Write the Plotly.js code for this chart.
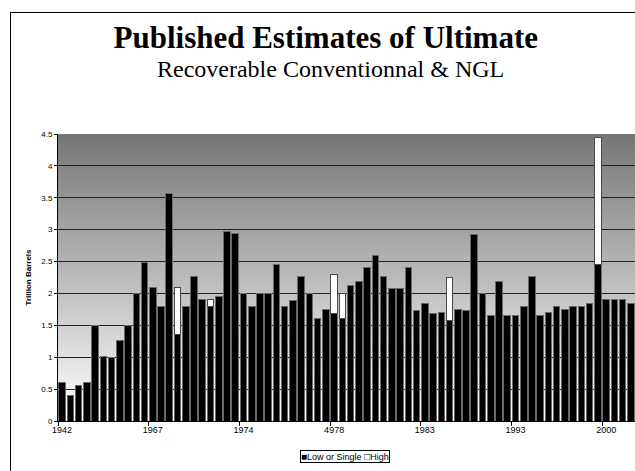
<!DOCTYPE html>
<html>
<head>
<meta charset="utf-8">
<script src="https://cdn.plot.ly/plotly-3.0.1.min.js"></script>
<style>
  html, body { margin: 0; padding: 0; background: #fff; overflow: hidden; }
  #wrap { position: relative; width: 635px; height: 471px; }
  #bg { position: absolute; left: 58px; top: 134px; width: 577px; height: 287px;
        background: linear-gradient(to bottom, #767676 0%, #ffffff 100%); z-index: 0; }
  #frame { position: absolute; left: 10px; top: 12px; width: 700px; height: 600px;
           border: 1px solid #000; z-index: 2; pointer-events: none; }
  #chart { position: absolute; left: 0; top: 0; width: 635px; height: 471px; z-index: 1; }
</style>
</head>
<body>
<div id="wrap">
  <div id="bg"></div>
  <div id="chart"></div>
  <div id="frame"></div>
</div>
<script>
// Low or single estimate for each published study (trillion barrels), in order
const lowOrSingle = [
  0.60, 0.40, 0.55, 0.61, 1.50, 1.01, 1.00, 1.26, 1.50, 2.00,
  2.48, 2.09, 1.80, 3.56, 1.36, 1.80, 2.26, 1.90, 1.80, 1.95,
  2.97, 2.94, 2.00, 1.80, 2.00, 2.00, 2.45, 1.80, 1.89, 2.27,
  2.00, 1.60, 1.75, 1.69, 1.60, 2.13, 2.19, 2.40, 2.60, 2.27,
  2.07, 2.08, 2.40, 1.73, 1.84, 1.69, 1.70, 1.58, 1.75, 1.73,
  2.92, 2.00, 1.65, 2.18, 1.65, 1.65, 1.80, 2.27, 1.65, 1.70,
  1.80, 1.75, 1.80, 1.80, 1.85, 2.45, 1.90, 1.90, 1.90, 1.85
];
// High estimate where a range was published (null = single estimate)
const highEstimate = [
  null, null, null, null, null, null, null, null, null, null,
  null, null, null, null, 2.10, null, null, null, 1.90, null,
  null, null, null, null, null, null, null, null, null, null,
  null, null, null, 2.30, 2.00, null, null, null, null, null,
  null, null, null, null, null, null, null, 2.25, null, null,
  null, null, null, null, null, null, null, null, null, null,
  null, null, null, null, null, 4.44, null, null, null, null
];
// Category axis labels (as printed) and the study index they sit on
const tickLabels = ['1942', '1967', '1974', '4978', '1983', '1993', '2000'];
const tickIndex = [0, 11, 22, 33, 44, 55, 66];
const seriesNames = ['Low or Single', 'High'];

const idx = lowOrSingle.map((_, i) => i);
const highPart = highEstimate.map((h, i) => (h == null ? null : +(h - lowOrSingle[i]).toFixed(3)));

const traces = [
  {
    type: 'bar', name: seriesNames[0], x: idx, y: lowOrSingle,
    marker: { color: '#000000', line: { color: '#6a6a6a', width: 1 } },
    hoverinfo: 'y'
  },
  {
    type: 'bar', name: seriesNames[1], x: idx, y: highPart,
    marker: { color: '#ffffff', line: { color: '#4a4a4a', width: 1 } },
    hoverinfo: 'y'
  }
];

const sans = 'Liberation Sans, Arial, sans-serif';
const serif = 'Liberation Serif, Times New Roman, serif';
const yFont = { family: sans, size: 8, color: '#000' };
const xFont = { family: sans, size: 9, color: '#000' };

const layout = {
  width: 635, height: 471,
  margin: { l: 58, r: 0, t: 134, b: 50, pad: 0, autoexpand: false },
  paper_bgcolor: 'rgba(0,0,0,0)',
  plot_bgcolor: 'rgba(0,0,0,0)',
  barmode: 'stack',
  bargap: 0.2,
  showlegend: false,
  font: yFont,
  title: {
    text: '<b>Published Estimates of Ultimate</b>',
    font: { family: serif, size: 31, color: '#000' },
    x: 0.513, xanchor: 'center', xref: 'container',
    y: 0.899, yanchor: 'bottom', yref: 'container'
  },
  annotations: [
    {
      text: 'Recoverable Conventionnal & NGL',
      font: { family: serif, size: 24, color: '#000' },
      xref: 'paper', yref: 'paper', x: 0.473, y: 1.175,
      xanchor: 'center', yanchor: 'bottom', showarrow: false
    },
    {
      // legend box
      text: '<span style="font-size:10px">\u25A0</span>' + seriesNames[0] +
            ' <span style="font-size:10px">\u25A1</span>' + seriesNames[1],
      font: { family: sans, size: 9, color: '#000' },
      xref: 'paper', yref: 'paper', x: 0.498, y: -0.1254,
      xanchor: 'center', yanchor: 'middle', showarrow: false,
      bgcolor: '#fff', bordercolor: '#000', borderwidth: 1, borderpad: 0
    }
  ],
  xaxis: {
    type: 'linear',
    range: [-0.5, lowOrSingle.length - 0.5],
    tickmode: 'array', tickvals: tickIndex, ticktext: tickLabels,
    ticks: '', showgrid: false, zeroline: false,
    showline: true, linecolor: '#000', linewidth: 1,
    tickfont: xFont,
    automargin: false,
    minor: {
      tickmode: 'array', tickvals: tickIndex.map(v => v - 0.5),
      ticks: 'outside', ticklen: 4, tickcolor: '#000', tickwidth: 1, showgrid: false
    }
  },
  yaxis: {
    range: [0, 4.5], dtick: 0.5, tick0: 0,
    ticks: 'outside', ticklen: 3, tickcolor: '#000', tickwidth: 1,
    showgrid: true, gridcolor: '#222', gridwidth: 1,
    zeroline: false, showline: true, linecolor: '#000', linewidth: 1,
    tickfont: yFont,
    automargin: false,
    title: { text: '<b>Trillion Barrels</b>', font: yFont, standoff: 8 }
  }
};

Plotly.newPlot('chart', traces, layout, { displayModeBar: false, staticPlot: true });
</script>
</body>
</html>
